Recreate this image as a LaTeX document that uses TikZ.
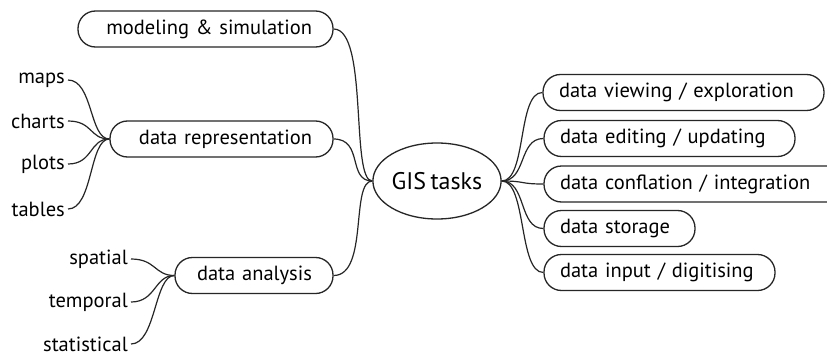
\documentclass[tikz,border=0pt]{standalone}
\usepackage{fontspec}
\setmainfont{PT Sans}[WordSpace=0.7]
\usetikzlibrary{shapes.geometric}
\begin{document}
\begin{tikzpicture}[x=1pt,y=-1pt,
  lbox/.style={draw=black!85,line width=1.3pt,rounded corners=17.5pt,minimum height=36pt,inner ysep=0pt,font=\fontsize{20.5}{24}\selectfont},
  leftbox/.style={lbox,inner xsep=21pt,align=right},
  rightbox/.style={lbox,inner xsep=16pt,align=left},
  leaf/.style={inner sep=0pt,font=\fontsize{20.5}{24}\selectfont,anchor=east},
  conn/.style={draw=black!85,line width=1.2pt}]
\clip (0,0) rectangle (827,356);
\fill[white] (0,0) rectangle (827,356);
% central node
\node[ellipse,draw=black!85,line width=1.3pt,minimum width=128pt,minimum height=76pt,inner sep=0pt,font=\fontsize{24}{28}\selectfont] (gis) at (437,181) {GIS tasks};
% left boxes
\node[leftbox,text width=213pt] (model) at (205.5,29) {\mbox{modeling \& simulation}};
\node[leftbox,text width=181pt] (repr) at (221.5,139) {\mbox{data representation}};
\node[leftbox,text width=116pt] (anal) at (254,275.5) {\mbox{data analysis}};
% right boxes
\node[rightbox,text width=249pt] (view) at (683.5,92.5) {\mbox{data viewing / exploration}};
\node[rightbox,text width=219pt] (edit) at (669.5,138.5) {\mbox{data editing / updating}};
\node[rightbox,text width=270pt] (conf) at (695,184) {\mbox{data conflation / integration}};
\node[rightbox,text width=119pt] (stor) at (619.5,228.5) {\mbox{data storage}};
\node[rightbox,text width=199pt] (inp) at (659.5,272.5) {\mbox{data input / digitising}};
% leaves
\node[leaf] (maps) at (65,80) {maps};
\node[leaf] (charts) at (65,121) {charts};
\node[leaf] (plots) at (65,164) {plots};
\node[leaf] (tables) at (65,209) {tables};
\node[leaf] (spat) at (128,259) {spatial};
\node[leaf] (temp) at (128,302) {temporal};
\node[leaf] (stat) at (128,344) {statistical};
% connectors to center
\draw[conn] (model.east) .. controls +(35,0) and +(-22,0) .. (gis.west);
\draw[conn] (repr.east) .. controls +(30,0) and +(-25,0) .. (gis.west);
\draw[conn] (anal.east) .. controls +(35,0) and +(-22,0) .. (gis.west);
\foreach \t in {view,edit,conf,stor,inp}
  \draw[conn] (gis.east) .. controls +(25,0) and +(-25,0) .. (\t.west);
% leaf connectors
\foreach \t in {maps,charts,plots,tables}
  \draw[conn] ([xshift=3pt]\t.east) .. controls +(25,0) and +(-20,0) .. (repr.west);
\foreach \t in {spat,temp,stat}
  \draw[conn] ([xshift=3pt]\t.east) .. controls +(25,0) and +(-20,0) .. (anal.west);
\end{tikzpicture}
\end{document}
